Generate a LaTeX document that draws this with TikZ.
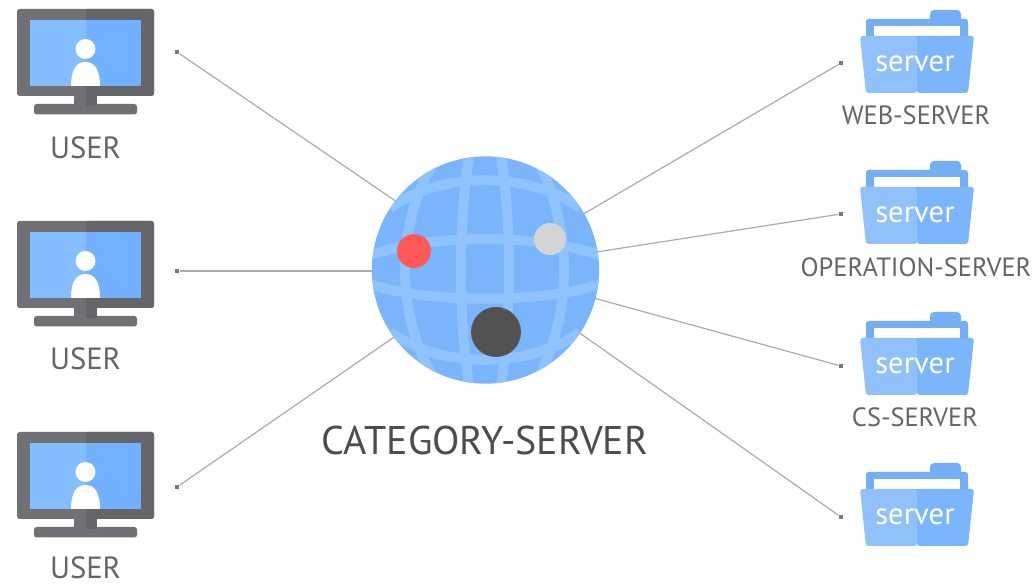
\documentclass[tikz,border=0pt]{standalone}
\usepackage{fontspec}
\setmainfont{PT Sans}
\definecolor{monL}{HTML}{717175}
\definecolor{monR}{HTML}{66666A}
\definecolor{scrL}{HTML}{84BEFF}
\definecolor{scrR}{HTML}{72B1FF}
\definecolor{folL}{HTML}{90C1FB}
\definecolor{folR}{HTML}{7BB5FB}
\definecolor{folB}{HTML}{74AFF6}
\definecolor{globeC}{HTML}{7AB4FA}
\definecolor{bandC}{HTML}{8EC3FE}
\definecolor{wire}{HTML}{ABABAB}
\definecolor{labelC}{HTML}{656565}
\tikzset{
  wirel/.style={draw=wire,line width=0.9pt},
  enddot/.style={fill=wire!70!black,minimum size=3.6pt,inner sep=0pt,shape=rectangle},
  band/.style={draw=bandC,line width=7.5pt},
  smalllabel/.style={text=labelC,font=\fontsize{19.8}{22}\selectfont,inner sep=0pt},
  userlabel/.style={text=labelC,font=\fontsize{23}{26}\selectfont,inner sep=0pt},
  biglabel/.style={text=labelC!75!black,font=\fontsize{30}{34}\selectfont,inner sep=0pt},
  foldertext/.style={text=white,font=\fontsize{23}{26}\selectfont,inner sep=0pt},
}
\newcommand{\monitoricon}[1]{%
  \begin{scope}[shift={(0,#1)}]
    \fill[monL,rounded corners=2pt] (34,104) rectangle (137,114.5);
    \fill[monL] (74,95) rectangle (97,106);
    \fill[monR] (86,95) rectangle (97,106);
    \fill[monL,rounded corners=2pt] (17,9) rectangle (154,96);
    \fill[monR,rounded corners=2pt] (86,9) rectangle (154,96);
    \fill[monR] (86,9) rectangle (90,96);
    \fill[scrL] (30,20) rectangle (86,86);
    \fill[scrR] (86,20) rectangle (141,86);
    \fill[white] (85.5,49) circle[radius=10];
    \fill[white] (71,86) .. controls (71,70) and (76,62) .. (85.5,62) .. controls (95,62) and (100,70) .. (100,86) -- cycle;
  \end{scope}}
\newcommand{\foldericon}[1]{%
  \begin{scope}[shift={(0,#1)}]
    \fill[folB,rounded corners=3pt] (930,10) rectangle (961,30);
    \fill[folB,rounded corners=2pt] (866,19) rectangle (968,40);
    \fill[white] (874,26) rectangle (960,36);
    \fill[folL,rounded corners=2pt] (860,36) -- (917,36) -- (917,93) -- (866,93) -- cycle;
    \fill[folR,rounded corners=2pt] (917,36) -- (974,36) -- (968,93) -- (917,93) -- cycle;
  \end{scope}}
\begin{document}
\begin{tikzpicture}[x=0.75pt,y=-0.75pt]
\useasboundingbox (0,0) rectangle (1036,584);
\fill[white] (0,0) rectangle (1036,584);

% connectors
\node[enddot] (u1) at (177,52) {};
\node[enddot] (u2) at (177,271) {};
\node[enddot] (u3) at (177,487) {};
\node[enddot] (s1) at (841,63) {};
\node[enddot] (s2) at (841,214) {};
\node[enddot] (s3) at (841,366) {};
\node[enddot] (s4) at (841,517) {};
\coordinate (g1) at (400,204);
\coordinate (g2) at (380,271);
\coordinate (g3) at (400,333);
\coordinate (g4) at (580,216);
\coordinate (g5) at (590,253);
\coordinate (g6) at (590,297);
\coordinate (g7) at (574,329);
\draw[wirel] (u1) -- (g1);
\draw[wirel] (u2) -- (g2);
\draw[wirel] (u3) -- (g3);
\draw[wirel] (s1) -- (g4);
\draw[wirel] (s2) -- (g5);
\draw[wirel] (s3) -- (g6);
\draw[wirel] (s4) -- (g7);

% monitors
\monitoricon{0}
\monitoricon{212}
\monitoricon{423}
\node[userlabel] (l1) at (85.5,147.5) {USER};
\node[userlabel] (l2) at (85.5,358.5) {USER};
\node[userlabel] (l3) at (85.5,567.5) {USER};

% folders
\foldericon{0}
\foldericon{151}
\foldericon{302}
\foldericon{453}
\node[foldertext] (f1) at (915,64) {server};
\node[foldertext] (f2) at (915,215) {server};
\node[foldertext] (f3) at (915,366) {server};
\node[foldertext] (f4) at (915,517) {server};
\node[smalllabel] (w1) at (916,115) {WEB-SERVER};
\node[smalllabel] (w2) at (916,267) {OPERATION-SERVER};
\node[smalllabel] (w3) at (915,417) {CS-SERVER};

% globe
\node[circle,fill=globeC,minimum size=170.5pt,inner sep=0pt] (globe) at (485.5,270) {};
\begin{scope}
  \clip (485.5,270) circle[radius=113.5];
  \draw[band] (365,257) .. controls (430,233) and (540,233) .. (605,257);
  \draw[band] (365,283) .. controls (430,304) and (540,304) .. (605,283);
  \draw[band] (390,208) .. controls (440,171) and (530,171) .. (580,208);
  \draw[band] (390,332) .. controls (440,369) and (530,369) .. (580,332);
  \draw[band] (470,150) .. controls (458,220) and (458,320) .. (470,390);
  \draw[band] (500,150) .. controls (512,220) and (512,320) .. (500,390);
  \draw[band] (432,165) .. controls (396,230) and (396,310) .. (432,375);
  \draw[band] (540,165) .. controls (572,230) and (572,310) .. (540,375);
\end{scope}
\node[circle,fill=red!65!white,draw=none,minimum size=25.5pt,inner sep=0pt] (dotred) at (414,251) {};
\node[circle,fill=black!17,minimum size=24pt,inner sep=0pt] (dotgray) at (550,239) {};
\node[circle,fill=black!68,minimum size=37.5pt,inner sep=0pt] (dotdark) at (496,332) {};
\node[biglabel] (cat) at (485,441) {CATEGORY-SERVER};
\end{tikzpicture}
\end{document}
